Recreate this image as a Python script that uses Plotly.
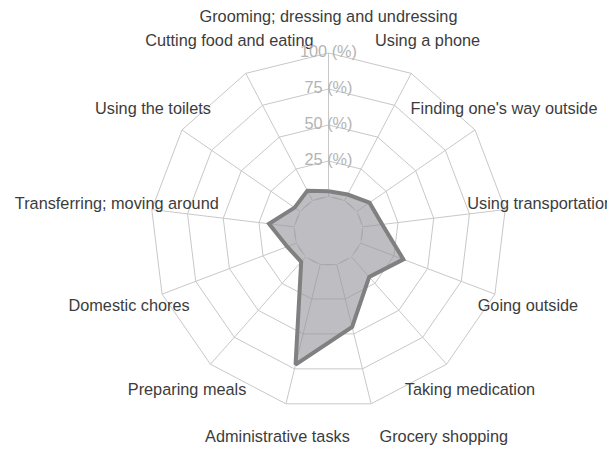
import plotly.graph_objects as go

categories = [
    "Grooming; dressing and undressing",
    "Using a phone",
    "Finding one's way outside",
    "Using transportation",
    "Going outside",
    "Taking medication",
    "Grocery shopping",
    "Administrative tasks",
    "Preparing meals",
    "Domestic chores",
    "Transferring; moving around",
    "Using the toilets",
    "Cutting food and eating",
]
values = [4, 5, 11, 14, 32, 19, 45, 72, 5, 7, 18, 5, 8]
radial_ticks = [0, 25, 50, 75, 100]
radial_labels = ["0 (%)", "25 (%)", "50 (%)", "75 (%)", "100 (%)"]

# ---- layout geometry (page is offset by the 8px default body margin) ----
W, H = 615, 451
BODY = 8
CX, CY = 328.5 - BODY, 231 - BODY      # centre in figure pixels
HOLE_PX = 34                            # radius of the 0 % circle
SCALE = 1.44                            # pixels per percentage point
RMAX = 126                              # radial range (room for labels)
LABEL_R = 124.5                         # radius where category labels sit
R_OUT = HOLE_PX + RMAX * SCALE
DOM_X = [(CX - R_OUT) / W, (CX + R_OUT) / W]
DOM_Y = [(H - CY - R_OUT) / H, (H - CY + R_OUT) / H]
HOLE = HOLE_PX / R_OUT

GRID = "#c8c8c8"
FILL_RGBA = "rgba(150,150,156,0.62)"
FILL_SOLID = "rgb(190,190,194)"
FONT = "Liberation Sans, Arial, sans-serif"
VMAX = radial_ticks[-1]
# label alignment exceptions (Excel shifts this one to avoid a collision)
label_pos = ["middle right" if c == "Grocery shopping" else "middle center"
             for c in categories]

fig = go.Figure()

# spokes from the 0 % circle to the 100 % ring
spoke_r, spoke_t = [], []
for c in categories:
    spoke_r += [0, VMAX, None]
    spoke_t += [c, c, None]
fig.add_trace(go.Scatterpolar(
    r=spoke_r, theta=spoke_t, mode="lines",
    line=dict(color=GRID, width=1),
    connectgaps=False, hoverinfo="skip", showlegend=False,
))

# category labels centred on each spoke direction
fig.add_trace(go.Scatterpolar(
    r=[LABEL_R] * len(categories),
    theta=categories,
    mode="text",
    text=categories,
    textposition=label_pos,
    textfont=dict(family=FONT, size=16.3, color="#3c3c3c"),
    cliponaxis=False,
    hoverinfo="skip",
    showlegend=False,
))

# data polygon
fig.add_trace(go.Scatterpolar(
    r=values + values[:1],
    theta=categories + categories[:1],
    mode="lines",
    fill="toself",
    fillcolor=FILL_RGBA,
    line=dict(color="#808080", width=4),
    hoverinfo="skip",
    showlegend=False,
))

# radial tick labels on the vertical axis
fig.add_trace(go.Scatterpolar(
    r=radial_ticks,
    theta=[categories[0]] * len(radial_ticks),
    mode="text",
    text=radial_labels,
    textposition="middle center",
    textfont=dict(family=FONT, size=16.3, color="#b4b4b4"),
    cliponaxis=False,
    hoverinfo="skip",
    showlegend=False,
))

# fill the central hole (the 0 % circle) like the data area
pcx, pcy = CX / W, (H - CY) / H
fig.add_shape(
    type="circle", xref="paper", yref="paper", layer="below",
    x0=pcx - HOLE_PX / W, x1=pcx + HOLE_PX / W,
    y0=pcy - HOLE_PX / H, y1=pcy + HOLE_PX / H,
    fillcolor=FILL_SOLID, line=dict(color=GRID, width=1),
)

fig.update_layout(
    width=W, height=H,
    margin=dict(l=0, r=0, t=0, b=0),
    paper_bgcolor="white",
    plot_bgcolor="white",
    font=dict(family=FONT, size=16, color="#3c3c3c"),
    polar=dict(
        domain=dict(x=DOM_X, y=DOM_Y),
        bgcolor="rgba(0,0,0,0)",
        hole=HOLE,
        gridshape="linear",
        radialaxis=dict(
            range=[0, RMAX],
            tickvals=radial_ticks[1:],
            showticklabels=False,
            angle=90,
            showline=False,
            gridcolor=GRID,
            gridwidth=1,
            ticks="",
        ),
        angularaxis=dict(
            categoryorder="array",
            categoryarray=categories,
            direction="clockwise",
            rotation=90,
            showline=False,
            showgrid=False,
            ticks="",
            showticklabels=False,
        ),
    ),
)

fig.write_html("out.html")
